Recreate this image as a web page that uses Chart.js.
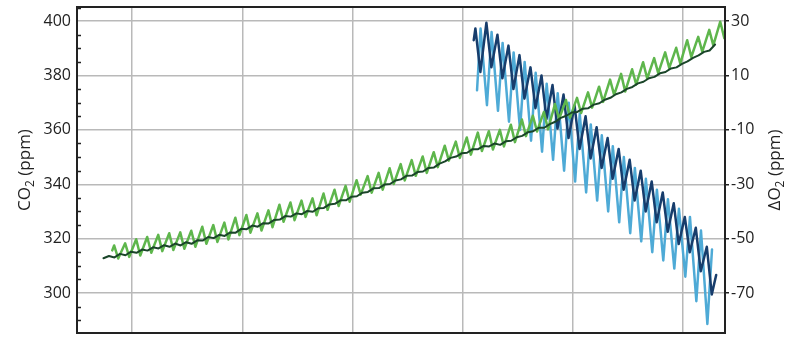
<!DOCTYPE html>
<html>
<head>
<meta charset="utf-8">
<script src="https://cdn.jsdelivr.net/npm/chart.js@4"></script>
<style>
  html, body { margin: 0; padding: 0; background: #fff; }
  canvas { display: block; }
</style>
</head>
<body>
<canvas id="c" width="788" height="337"></canvas>
<script>
// Axis tick values
const decadeTicks = [1960, 1970, 1980, 1990, 2000, 2010];
const co2Ticks = [300, 320, 340, 360, 380, 400];
const o2Ticks = [-70, -50, -30, -10, 10, 30];

// Mauna Loa CO2 (ppm): yearly seasonal maxima (May) and minima (Sep/Oct), 1958-2013
const mloFirst = { year: 1958.2, value: 315.7 };
const mloStartYear = 1958;
const mloPeak = [
  317.5, 318.3, 319.8, 320.6, 321.4, 322.0, 322.3, 322.9, 324.4, 325.0,
  325.9, 327.7, 328.7, 329.3, 330.4, 332.5, 333.3, 334.0, 334.8, 336.6,
  338.0, 339.4, 341.5, 343.0, 344.2, 345.9, 347.4, 348.9, 350.2, 351.8,
  354.2, 355.7, 357.2, 359.0, 359.5, 360.0, 361.9, 363.8, 365.2, 366.6,
  369.5, 371.0, 371.8, 373.8, 375.9, 378.5, 380.6, 382.3, 384.9, 386.4,
  388.5, 390.2, 393.0, 394.2, 396.8, 399.8
];
const mloTrough = [
  312.7, 313.3, 313.8, 314.8, 315.4, 315.8, 316.3, 317.0, 318.1, 318.8,
  319.7, 321.3, 322.2, 323.0, 324.2, 326.2, 326.8, 328.0, 328.6, 330.6,
  332.0, 333.6, 336.2, 336.9, 338.0, 340.1, 341.4, 343.1, 344.2, 346.3,
  348.7, 349.7, 350.9, 352.2, 352.8, 353.9, 355.5, 357.7, 359.4, 360.2,
  364.0, 364.5, 366.2, 368.2, 370.3, 372.9, 374.1, 376.7, 378.9, 380.9,
  382.8, 384.4, 386.8, 388.8, 391.1, 393.7
];

// South Pole CO2 (ppm): yearly low / high of the small seasonal wiggle, 1957-2012
const spoStartYear = 1957;
const spoLow = [
  312.8, 313.1, 313.9, 314.8, 315.6, 316.4, 317.0, 317.5, 318.1, 319.3,
  320.2, 321.0, 322.2, 323.5, 324.4, 325.6, 327.0, 328.1, 329.0, 329.9,
  331.3, 332.8, 334.1, 335.6, 337.2, 338.6, 340.1, 341.8, 343.2, 344.7,
  346.2, 348.4, 350.2, 351.6, 352.9, 353.9, 354.5, 356.0, 357.8, 359.5,
  360.8, 363.0, 365.2, 366.6, 368.0, 369.8, 371.8, 373.8, 375.8, 377.7,
  379.5, 381.3, 383.0, 385.2, 387.4, 389.2
];
const spoHigh = [
  313.6, 314.4, 315.2, 316.0, 316.8, 317.6, 318.2, 318.7, 319.4, 320.6,
  321.4, 322.3, 323.6, 324.8, 325.7, 326.9, 328.3, 329.3, 330.2, 331.2,
  332.6, 334.1, 335.4, 336.9, 338.5, 339.9, 341.4, 343.1, 344.5, 346.0,
  347.6, 349.7, 351.4, 352.9, 354.1, 355.0, 355.8, 357.3, 359.1, 360.8,
  362.1, 364.4, 366.4, 367.8, 369.3, 371.1, 373.1, 375.1, 377.1, 379.0,
  380.8, 382.6, 384.3, 386.5, 388.7, 391.4
];

// Alert O2 change (ppm): yearly maxima and minima, 1991-2012
const altStartYear = 1991;
const altFirst = { year: 1991.0, value: 23.0 };
const altLast = { year: 2013.0, value: -63.4 };
const altPeak = [
  27.3, 29.4, 25.0, 21.0, 17.5, 13.0, 10.0, 6.5, 3.0, -1.0,
  -5.0, -9.0, -13.0, -17.0, -21.0, -25.0, -29.0, -33.0, -37.0, -42.0,
  -46.0, -53.0
];
const altTrough = [
  11.3, 13.0, 9.0, 5.0, 1.5, -2.0, -6.0, -9.5, -13.0, -17.0,
  -20.5, -24.0, -28.0, -32.0, -36.0, -40.0, -44.0, -47.5, -52.0, -55.0,
  -62.0, -70.5
];

// Cape Grim O2 change (ppm): yearly maxima 1991-2012, minima 1992-2012
const cgoStartYear = 1991;
const cgoFirst = { year: 1991.3, value: 4.6 };
const cgoPeak = [
  27.3, 26.0, 22.0, 18.5, 15.0, 11.0, 7.0, 3.5, 0.0, -4.0,
  -8.0, -12.0, -16.0, -20.0, -24.0, -28.0, -32.0, -35.5, -39.0, -42.0,
  -47.0, -54.0
];
const cgoTrough = [
  -0.9, -3.0, -7.0, -10.0, -14.0, -18.0, -21.0, -25.0, -29.0, -33.0,
  -36.0, -40.0, -44.0, -48.0, -51.0, -55.0, -58.0, -61.0, -64.0, -73.0,
  -81.4
];

// Build {x, y} point lists from the yearly extremes
function mloPoints() {
  const pts = [{ x: mloFirst.year, y: mloFirst.value }];
  mloPeak.forEach((v, i) => {
    const yr = mloStartYear + i;
    pts.push({ x: yr + 0.37, y: v });
    pts.push({ x: yr + 0.74, y: mloTrough[i] });
  });
  return pts;
}
function spoPoints() {
  const pts = [];
  spoLow.forEach((v, i) => {
    const yr = spoStartYear + i;
    pts.push({ x: yr + 0.4, y: v });
    pts.push({ x: yr + 0.9, y: spoHigh[i] });
  });
  return pts;
}
function altPoints() {
  const pts = [{ x: altFirst.year, y: altFirst.value }];
  altPeak.forEach((v, i) => {
    const yr = altStartYear + i;
    pts.push({ x: yr + 0.15, y: v });
    pts.push({ x: yr + 0.6, y: altTrough[i] });
  });
  pts.push({ x: altLast.year, y: altLast.value });
  return pts;
}
function cgoPoints() {
  const pts = [{ x: cgoFirst.year, y: cgoFirst.value }];
  cgoPeak.forEach((v, i) => {
    const yr = cgoStartYear + i;
    if (i > 0) pts.push({ x: yr + 0.2, y: cgoTrough[i - 1] });
    pts.push({ x: yr + 0.62, y: v });
  });
  return pts;
}

const FONT = '"Open Sans", "DejaVu Sans", sans-serif';
const INK = '#222222';
const GRID = '#b9b9b9';

// Frame, inner minor ticks and the two rotated axis titles
const decor = {
  id: 'decor',
  beforeDatasetsDraw(chart) {
    const { ctx, chartArea: a } = chart;
    const ys = chart.scales.y;
    ctx.save();
    ctx.strokeStyle = INK;
    ctx.lineWidth = 1.5;
    ctx.beginPath();
    for (let v = 290; v <= 405; v += 5) {
      if (v % 20 === 0) continue;
      const py = Math.round(ys.getPixelForValue(v)) + 0.5;
      ctx.moveTo(a.left, py);
      ctx.lineTo(a.left + 4, py);
    }
    ctx.stroke();
    ctx.restore();
  },
  afterDraw(chart) {
    const { ctx, chartArea: a } = chart;
    ctx.save();
    ctx.strokeStyle = INK;
    ctx.lineWidth = 2;
    ctx.strokeRect(a.left, a.top, a.right - a.left, a.bottom - a.top);
    ctx.restore();
    const cy = (a.top + a.bottom) / 2;
    drawTitle(ctx, 30, cy, 'CO', '2', ' (ppm)');
    drawTitle(ctx, 780, cy, '\u0394O', '2', ' (ppm)');
  }
};

function drawTitle(ctx, baseX, cy, pre, sub, post) {
  const big = '17px ' + FONT, small = '12px ' + FONT;
  ctx.save();
  ctx.font = big;
  const w1 = ctx.measureText(pre).width;
  const w3 = ctx.measureText(post).width;
  ctx.font = small;
  const w2 = ctx.measureText(sub).width;
  const total = w1 + w2 + w3;
  ctx.translate(baseX, cy);
  ctx.rotate(-Math.PI / 2);
  ctx.fillStyle = INK;
  ctx.textBaseline = 'alphabetic';
  ctx.textAlign = 'left';
  let x = -total / 2;
  ctx.font = big;
  ctx.fillText(pre, x, 0);
  x += w1;
  ctx.font = small;
  ctx.fillText(sub, x, 4);
  x += w2;
  ctx.font = big;
  ctx.fillText(post, x, 0);
  ctx.restore();
}

const line = (label, data, color, width, axis) => ({
  label, data, borderColor: color, borderWidth: width,
  pointRadius: 0, tension: 0, fill: false, yAxisID: axis,
  borderJoinStyle: 'round', borderCapStyle: 'round'
});

// Fixed box sizes so the plot area sits at the same place every time
const fixWidth = w => s => { s.width = w; s.paddingTop = 0; s.paddingBottom = 0; };

new Chart(document.getElementById('c'), {
  type: 'line',
  data: {
    datasets: [
      line('South Pole CO2', spoPoints(), '#1a4529', 2, 'y'),
      line('Mauna Loa CO2', mloPoints(), '#5eb64c', 2.5, 'y'),
      line('Alert O2', altPoints(), '#173d6c', 2.5, 'y2'),
      line('Cape Grim O2', cgoPoints(), '#4eaad6', 2.5, 'y2')
    ]
  },
  options: {
    responsive: false,
    devicePixelRatio: 1,
    animation: false,
    events: [],
    layout: { padding: { top: 7, bottom: 0, left: 0, right: 0 } },
    plugins: { legend: { display: false }, tooltip: { enabled: false } },
    scales: {
      x: {
        type: 'linear', min: 1955, max: 2013.8,
        afterBuildTicks: s => { s.ticks = decadeTicks.map(v => ({ value: v })); },
        ticks: { display: false },
        grid: { color: GRID, lineWidth: 1.5, drawTicks: false },
        border: { display: false },
        afterFit: s => { s.height = 4; s.paddingLeft = 0; s.paddingRight = 0; }
      },
      y: {
        position: 'left', min: 285.3, max: 405.2,
        afterBuildTicks: s => { s.ticks = co2Ticks.map(v => ({ value: v })); },
        ticks: { font: { family: FONT, size: 16 }, color: INK, padding: 6 },
        grid: { color: GRID, lineWidth: 1.5, drawTicks: false },
        border: { display: false },
        afterFit: fixWidth(77)
      },
      y2: {
        position: 'right', min: -84.7, max: 35.2,
        afterBuildTicks: s => { s.ticks = o2Ticks.map(v => ({ value: v })); },
        ticks: { font: { family: FONT, size: 16 }, color: INK, padding: 2 },
        grid: { drawOnChartArea: false, drawTicks: true, tickLength: 4, tickColor: INK, lineWidth: 1.5 },
        border: { display: false },
        afterFit: fixWidth(63)
      }
    }
  },
  plugins: [decor]
});
</script>
</body>
</html>
